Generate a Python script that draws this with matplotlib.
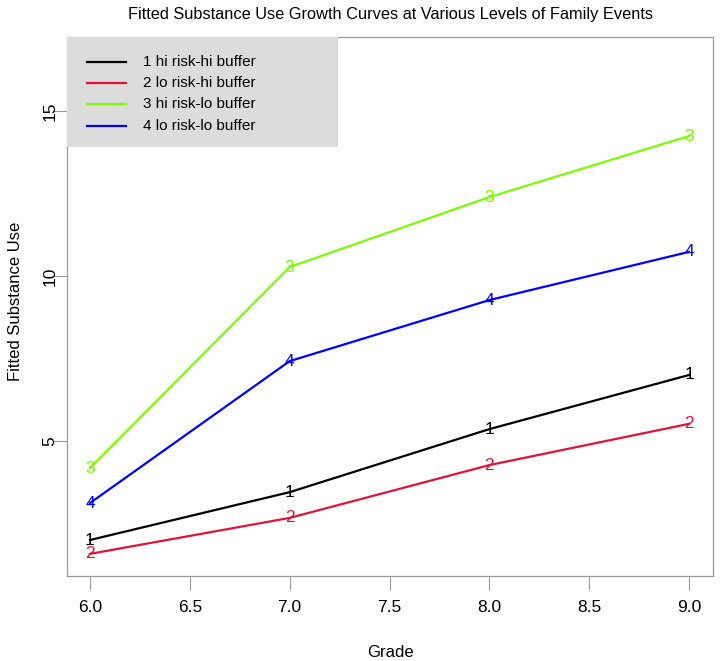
import matplotlib
matplotlib.use("Agg")
import matplotlib.pyplot as plt
from matplotlib.patches import Rectangle

plt.rcParams['font.family'] = ['Liberation Sans', 'DejaVu Sans']

grade = [6.0, 7.0, 8.0, 9.0]
labels = ['1 hi risk-hi buffer', '2 lo risk-hi buffer', '3 hi risk-lo buffer', '4 lo risk-lo buffer']
symbols = ['1', '2', '3', '4']
colors = ['#000000', '#DC143C', '#7CFC00', '#0000FF']
hi_hi = [2.0, 3.45, 5.36, 7.0]
lo_hi = [1.58, 2.67, 4.27, 5.52]
hi_lo = [4.18, 10.27, 12.39, 14.24]
lo_lo = [3.12, 7.42, 9.27, 10.73]
series = [hi_hi, lo_hi, hi_lo, lo_lo]

x_ticks = [6.0, 6.5, 7.0, 7.5, 8.0, 8.5, 9.0]
y_ticks = [5, 10, 15]

fig = plt.figure(figsize=(7.21, 6.61), dpi=100)
ax = fig.add_axes([67 / 721, 1 - 576 / 661, 646 / 721, 539 / 661])

for vals, sym, col in zip(series, symbols, colors):
    ax.plot(grade, vals, color=col, lw=1.6, zorder=2)
    for gx, gy in zip(grade, vals):
        ax.text(gx, gy, sym, color=col, fontsize=12.5, ha='center', va='center', zorder=3)

ax.set_xlim(5.885, 9.12)
ax.set_ylim(0.91, 17.24)
ax.set_xticks(x_ticks)
ax.set_xticklabels([f'{v:.1f}' for v in x_ticks])
ax.set_yticks(y_ticks)
ax.set_yticklabels([str(v) for v in y_ticks], rotation=90, va='center')
ax.tick_params(direction='out', length=10, width=0.8, color='#999999', labelsize=12.5)
ax.tick_params(axis='x', pad=7)
ax.tick_params(axis='y', pad=-3)

for s in ax.spines.values():
    s.set_color('#999999')
    s.set_linewidth(0.9)

# legend box drawn in the top left corner
ax.add_patch(Rectangle((0.0, 0.796), 0.4195, 0.204, transform=ax.transAxes,
                       facecolor='#dcdcdc', edgecolor='none', zorder=4))
rows = [0.954, 0.915, 0.876, 0.835]
for ry, lab, col in zip(rows, labels, colors):
    ax.plot([0.031, 0.091], [ry, ry], color=col, lw=1.6, transform=ax.transAxes, zorder=5)
    ax.text(0.118, ry, lab, fontsize=11, va='center', ha='left', transform=ax.transAxes, zorder=5)

ax.set_title('Fitted Substance Use Growth Curves at Various Levels of Family Events',
             fontsize=11.8, pad=13)
ax.set_xlabel('Grade', fontsize=12, labelpad=22)
ax.set_ylabel('Fitted Substance Use', fontsize=12)
ax.yaxis.set_label_coords(-0.068, 0.51)

fig.savefig('out.png', dpi=100)
